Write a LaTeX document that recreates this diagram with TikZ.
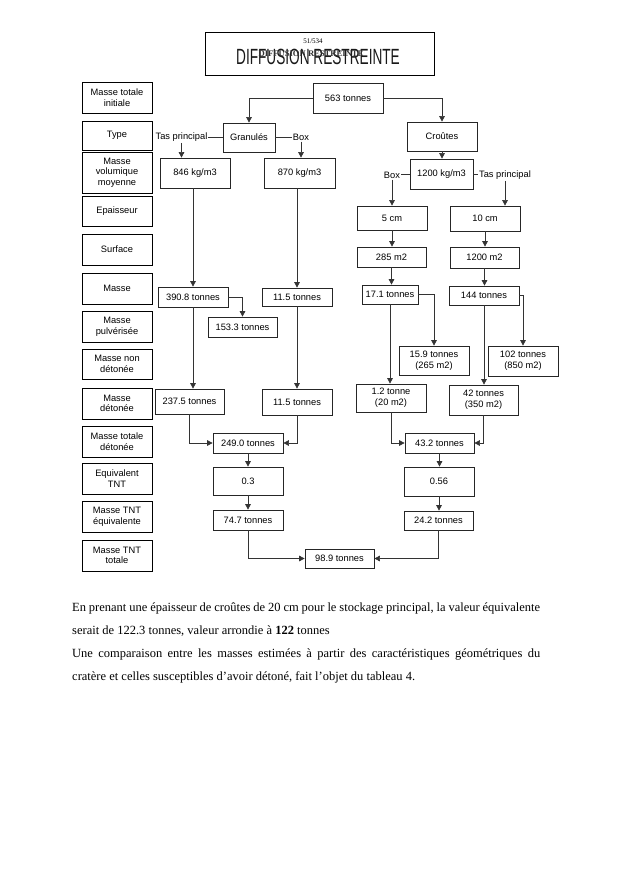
\documentclass[tikz,border=0pt]{standalone}
\usepackage{fontspec}
\setmainfont{Liberation Serif}
\newfontfamily\arialf{Liberation Sans}
\usetikzlibrary{arrows.meta}
\newcommand\mybox[7][bx]{\node[#1,minimum width={(#5-#3)*1pt},minimum height={(#6-#4)*1pt}] (#2) at ({(#3+#5)/2},{(#4+#6)/2}) {#7};}
\begin{document}
\begin{tikzpicture}[x=1pt,y=-1pt,
  bx/.style={draw=black!85, line width=0.7pt, inner sep=0pt, align=center, font=\arialf\fontsize{9.3}{10.6}\selectfont},
  lbx/.style={bx, line width=0.9pt, draw=black},
  lbl/.style={inner sep=0.8pt, font=\arialf\fontsize{9.3}{10.6}\selectfont},
  ln/.style={line width=0.6pt, draw=black!80},
  arr/.style={ln, -{Triangle[width=5.5pt,length=5.5pt]}},
  para/.style={inner sep=0pt, anchor=base west, font=\fontsize{12.5}{15}\selectfont}]
\useasboundingbox[fill=white] (0,0) rectangle (620,877);
% header
\node[draw=black, line width=0.9pt, minimum width=229pt, minimum height=43pt, inner sep=0pt] (hdr) at (319.5,53.5) {};
\draw[line width=1.6pt] (hdr.south west) -- (hdr.south east) -- (hdr.north east);
\node[inner sep=0pt, font=\fontsize{7}{8}\selectfont] (hnum) at (313,41) {51/534};
\node[inner sep=0pt, xscale=0.62, font=\arialf\fontsize{22}{24}\selectfont, text=black!90] (htitle) at (318,57) {DIFFUSION RESTREINTE};
\node[inner sep=0pt, font=\bfseries\fontsize{8.6}{9}\selectfont, text=black!80] (hsub) at (311,54) {DIFFUSION RESTREINTE};
% left labels
\mybox[lbx]{L1}{82}{82}{152}{113}{Masse totale\\initiale}
\mybox[lbx]{L2}{82}{121}{152}{150}{Type}
\mybox[lbx]{L3}{82}{152}{152}{193}{Masse\\volumique\\moyenne}
\mybox[lbx]{L4}{82}{196}{152}{226}{Epaisseur}
\mybox[lbx]{L5}{82}{234}{152}{265}{Surface}
\mybox[lbx]{L6}{82}{273}{152}{304}{Masse}
\mybox[lbx]{L7}{82}{311}{152}{342}{Masse\\pulvérisée}
\mybox[lbx]{L8}{82}{349}{152}{379}{Masse non\\détonée}
\mybox[lbx]{L9}{82}{388}{152}{419}{Masse\\détonée}
\mybox[lbx]{L10}{82}{426}{152}{457}{Masse totale\\détonée}
\mybox[lbx]{L11}{82}{463}{152}{494}{Equivalent\\TNT}
\mybox[lbx]{L12}{82}{501}{152}{532}{Masse TNT\\équivalente}
\mybox[lbx]{L13}{82}{540}{152}{571}{Masse TNT\\totale}
% main boxes
\mybox{m563}{313}{83}{383}{113}{563 tonnes}
\mybox{gran}{223}{123}{275}{152}{Granulés}
\mybox{crou}{407}{122}{477}{151}{Croûtes}
\mybox{v846}{160}{158}{230}{188}{846 kg/m3}
\mybox{v870}{264}{158}{335}{188}{870 kg/m3}
\mybox{v1200}{410}{159}{473}{189}{1200 kg/m3}
\mybox{e5}{357}{206}{427}{230}{5 cm}
\mybox{e10}{450}{206}{520}{231}{10 cm}
\mybox{s285}{357}{247}{426}{267}{285 m2}
\mybox{s1200}{450}{247}{519}{268}{1200 m2}
\mybox{m390}{158}{287}{228}{307}{390.8 tonnes}
\mybox{m115a}{262}{288}{332}{306}{11.5 tonnes}
\mybox{m171}{362}{285}{418}{304}{17.1 tonnes}
\mybox{m144}{449}{286}{519}{305}{144 tonnes}
\mybox{p153}{208}{317}{277}{337}{153.3 tonnes}
\mybox{n159}{399}{346}{469}{375}{15.9 tonnes\\(265 m2)}
\mybox{n102}{488}{346}{558}{376}{102 tonnes\\(850 m2)}
\mybox{d237}{155}{389}{224}{414}{237.5 tonnes}
\mybox{d115}{262}{389}{332}{415}{11.5 tonnes}
\mybox{d12}{356}{384}{426}{412}{1.2 tonne\\(20 m2)}
\mybox{d42}{449}{385}{518}{415}{42 tonnes\\(350 m2)}
\mybox{t249}{213}{433}{283}{453}{249.0 tonnes}
\mybox{t432}{405}{433}{474}{453}{43.2 tonnes}
\mybox{q03}{213}{467}{283}{495}{0.3}
\mybox{q056}{404}{467}{474}{496}{0.56}
\mybox{k747}{213}{510}{283}{530}{74.7 tonnes}
\mybox{k242}{404}{511}{473}{530}{24.2 tonnes}
\mybox{tot}{305}{549}{374}{568}{98.9 tonnes}
% branch labels
\node[lbl] (tasL) at (181.5,137.5) {Tas principal};
\node[lbl] (boxL) at (301,137.5) {Box};
\node[lbl] (boxR) at (392,175.5) {Box};
\node[lbl] (tasR) at (505,175.5) {Tas principal};
% connectors
\draw[arr] (m563.west) -| (gran.north);
\draw[arr] (m563.east) -| (crou.north);
\draw[ln] (gran.west) -- (tasL.east |- gran.west);
\draw[ln] (gran.east) -- (boxL.west |- gran.east);
\draw[arr] (tasL.south) -- (tasL.south |- v846.north);
\draw[arr] (boxL.south) -- (boxL.south |- v870.north);
\draw[arr] (crou.south) -- (crou.south |- v1200.north);
\draw[ln] (v1200.west) -- (boxR.east |- v1200.west);
\draw[ln] (v1200.east) -- (tasR.west |- v1200.east);
\draw[arr] (boxR.south) -- (boxR.south |- e5.north);
\draw[arr] (tasR.south) -- (tasR.south |- e10.north);
\draw[arr] (e5.south) -- (e5.south |- s285.north);
\draw[arr] (e10.south) -- (e10.south |- s1200.north);
\draw[arr] (m390.north |- v846.south) -- (m390.north);
\draw[arr] (m115a.north |- v870.south) -- (m115a.north);
\draw[arr] (s285.south) -- (s285.south |- m171.north);
\draw[arr] (s1200.south) -- (s1200.south |- m144.north);
\draw[arr] (m390.east) -| (p153.north);
\draw[arr] (m171.east) -| (n159.north);
\draw[arr] (m144.east) -| (n102.north);
\draw[arr] (m390.south) -- (m390.south |- d237.north);
\draw[arr] (m115a.south) -- (m115a.south |- d115.north);
\draw[arr] (m171.south) -- (m171.south |- d12.north);
\draw[arr] (m144.south) -- (m144.south |- d42.north);
\draw[arr] (d237.south) |- (t249.west);
\draw[arr] (d115.south) |- (t249.east);
\draw[arr] (d12.south) |- (t432.west);
\draw[arr] (d42.south) |- (t432.east);
\draw[arr] (t249.south) -- (t249.south |- q03.north);
\draw[arr] (q03.south) -- (q03.south |- k747.north);
\draw[arr] (t432.south) -- (t432.south |- q056.north);
\draw[arr] (q056.south) -- (q056.south |- k242.north);
\draw[arr] (k747.south) |- (tot.west);
\draw[arr] (k242.south) |- (tot.east);
% paragraph
\node[para] (p1) at (72,611) {\makebox[468pt][s]{En prenant une épaisseur de croûtes de 20 cm pour le stockage principal, la valeur équivalente}};
\node[para] (p2) at (72,634) {serait de 122.3 tonnes, valeur arrondie à \textbf{122} tonnes};
\node[para] (p3) at (72,657) {\makebox[468pt][s]{Une comparaison entre les masses estimées à partir des caractéristiques géométriques du}};
\node[para] (p4) at (72,680) {cratère et celles susceptibles d’avoir détoné, fait l’objet du tableau 4.};
\end{tikzpicture}
\end{document}
